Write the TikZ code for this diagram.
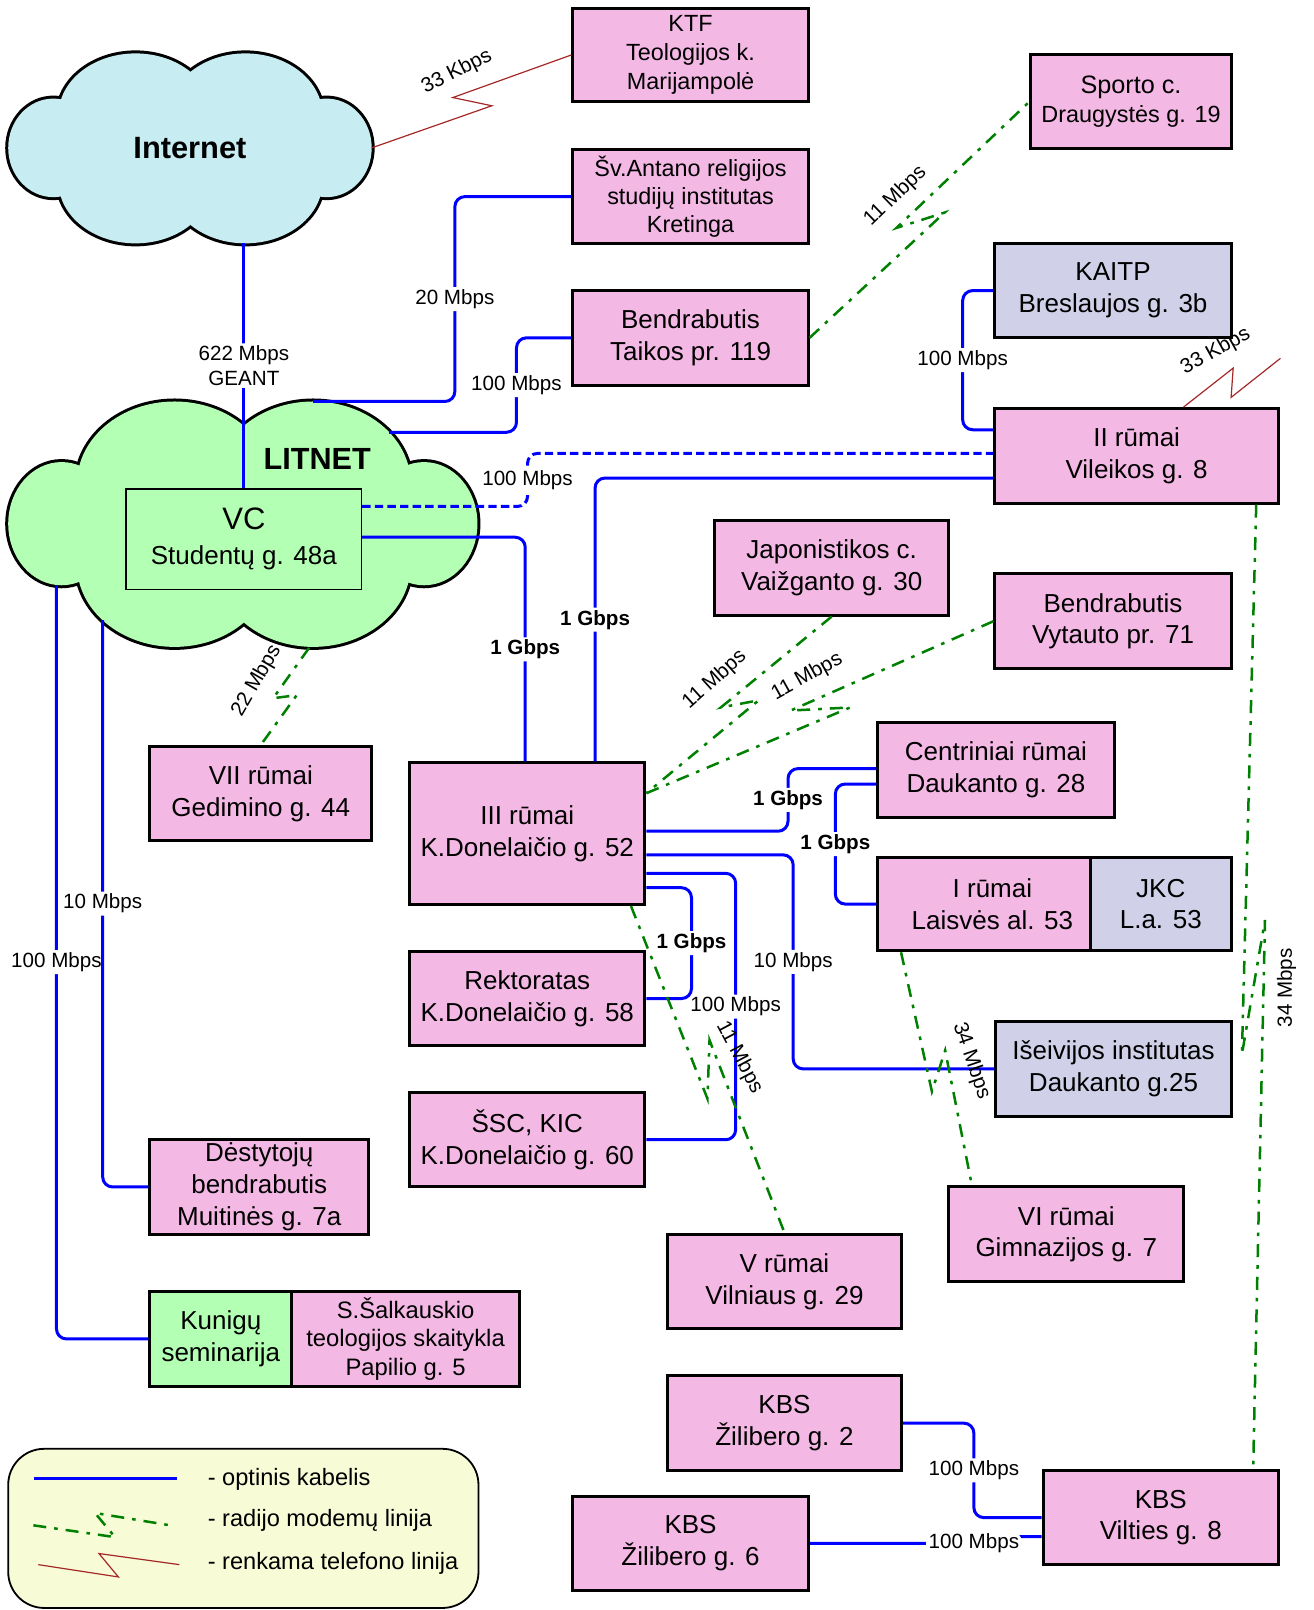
\documentclass[tikz,border=0pt]{standalone}
\usepackage{fontspec}
\setmainfont{Liberation Sans}
\usetikzlibrary{calc}
\definecolor{pinkc}{RGB}{244,184,228}
\definecolor{lavc}{RGB}{208,208,232}
\definecolor{grnc}{RGB}{179,255,179}
\definecolor{cyac}{RGB}{199,236,242}
\definecolor{legc}{RGB}{247,251,214}
\definecolor{fibc}{RGB}{0,0,255}
\definecolor{radc}{RGB}{0,128,0}
\definecolor{telc}{RGB}{165,40,40}
\newlength\upx
\setlength\upx{0.5133pt}
\newcommand\fsz[2]{\fontsize{#1}{#2}\selectfont}
\begin{document}
\begin{tikzpicture}[x=0.5133pt,y=-0.5133pt,
  bxr/.style n args={4}{at={({(#1+#3)/2},{(#2+#4)/2})}, minimum width={(#3-#1)*0.5133pt}, minimum height={(#4-#2)*0.5133pt}},
  box/.style={draw=black, line width=1.5pt, fill=pinkc, align=center, inner sep=0pt, font=\fsz{13}{15.9}},
  lav/.style={box, fill=lavc},
  grn/.style={box, fill=grnc},
  fib/.style={draw=fibc, line width=1.5pt, rounded corners=5pt},
  fibd/.style={fib, dash pattern=on 4.2pt off 2.1pt},
  rad/.style={draw=radc, line width=1.25pt, dash pattern=on 6.5pt off 4pt on 1.8pt off 4pt},
  tel/.style={draw=telc, line width=0.6pt},
  lbl/.style={fill=white, inner sep=1.2pt, font=\fsz{10.3}{12.3}},
  lblb/.style={lbl, font=\fsz{10.3}{12.3}\bfseries},
  rlbl/.style={inner sep=0pt, font=\fsz{10.3}{12.3}},
  cld/.style={draw=black, line width=3pt}]
\useasboundingbox (0,0) rectangle (1279,1568);
\fill[white] (0,0) rectangle (1279,1568);

% Internet cloud
\foreach \cx/\cy/\rx/\ry in {132/112/75/60,239/112/75/60,132/177/75/60,239/177/75/60,52/144/44/48,318/144/44/48}
  \draw[cld] (\cx,\cy) ellipse [x radius=\rx, y radius=\ry];
\foreach \cx/\cy/\rx/\ry in {132/112/75/60,239/112/75/60,132/177/75/60,239/177/75/60,52/144/44/48,318/144/44/48}
  \fill[cyac] (\cx,\cy) ellipse [x radius=\rx, y radius=\ry];
\node[font=\fsz{15.4}{18}\bfseries] (inet) at (185,144) {Internet};

% LITNET cloud
\foreach \cx/\cy/\rx/\ry in {170/471/95/80,305/471/95/80,170/550/95/80,305/550/95/80,60/510/52/60,413/510/52/60}
  \draw[cld] (\cx,\cy) ellipse [x radius=\rx, y radius=\ry];
\foreach \cx/\cy/\rx/\ry in {170/471/95/80,305/471/95/80,170/550/95/80,305/550/95/80,60/510/52/60,413/510/52/60}
  \fill[grnc] (\cx,\cy) ellipse [x radius=\rx, y radius=\ry];
\node[font=\fsz{15.3}{18}\bfseries] (litnet) at (309,447) {LITNET};

% boxes
\node[grn, line width=0.8pt, font=\fsz{13}{17.5}, bxr={123}{476}{352}{574}] (vc) {{\fsz{15.5}{17.5}VC}\\Studentų g. 48a};
\node[box, font=\fsz{11.7}{14.3}, bxr={558}{8}{787}{99}] (ktf) {KTF\\Teologijos k.\\Marijampolė};
\node[box, font=\fsz{11.7}{14.1}, bxr={558}{146}{787}{237}] (antano) {Šv.Antano religijos\\studijų institutas\\Kretinga};
\node[box, font=\fsz{12.6}{14.9}, bxr={1004}{53}{1199}{145}] (sporto) {Sporto c.\\{\fsz{11.7}{14.9}Draugystės g. 19}};
\node[box, bxr={558}{283}{787}{375}] (taikos) {Bendrabutis\\Taikos pr. 119};
\node[lav, bxr={969}{237}{1199}{329}] (kaitp) {KAITP\\Breslaujos g. 3b};
\node[box, bxr={969}{398}{1245}{490}] (ii) {II rūmai\\Vileikos g. 8};
\node[box, bxr={696}{507}{924}{599}] (jap) {Japonistikos c.\\Vaižganto g. 30};
\node[box, bxr={969}{559}{1199}{651}] (vyt) {Bendrabutis\\Vytauto pr. 71};
\node[box, bxr={146}{727}{362}{819}] (vii) {VII rūmai\\Gedimino g. 44};
\node[box, bxr={399}{743}{628}{881}] (iii) {III rūmai\\K.Donelaičio g. 52};
\node[box, bxr={855}{704}{1085}{796}] (cent) {Centriniai rūmai\\Daukanto g. 28};
\node[box, bxr={855}{835}{1062}{926}] (irumai) {\hspace*{16\upx}I rūmai\\\hspace*{16\upx}Laisvės al. 53};
\node[lav, bxr={1062}{835}{1199}{926}] (jkc) {JKC\\L.a. 53};
\node[box, bxr={399}{927}{628}{1018}] (rekt) {Rektoratas\\K.Donelaičio g. 58};
\node[lav, bxr={970}{995}{1199}{1087}] (iseiv) {Išeivijos institutas\\Daukanto g.25};
\node[box, bxr={399}{1064}{628}{1156}] (ssc) {ŠSC, KIC\\K.Donelaičio g. 60};
\node[box, bxr={146}{1110}{359}{1202}] (dest) {Dėstytojų\\bendrabutis\\Muitinės g. 7a};
\node[box, bxr={924}{1156}{1153}{1248}] (vi) {VI rūmai\\Gimnazijos g. 7};
\node[box, bxr={650}{1202}{878}{1294}] (vr) {V rūmai\\Vilniaus g. 29};
\node[grn, bxr={146}{1258}{284}{1350}] (kun) {Kunigų\\seminarija};
\node[box, font=\fsz{11.9}{14.1}, bxr={284}{1258}{506}{1350}] (salk) {S.Šalkauskio\\teologijos skaitykla\\Papilio g. 5};
\node[box, bxr={650}{1340}{878}{1432}] (kbs2) {KBS\\Žilibero g. 2};
\node[box, bxr={1016}{1432}{1245}{1524}] (vilt) {KBS\\Vilties g. 8};
\node[box, bxr={558}{1457}{787}{1549}] (kbs6) {KBS\\Žilibero g. 6};

% fibre connectors
\coordinate (inetS) at (237.5,237);
\coordinate (litA) at (305,391);
\coordinate (litB) at (379,421);
\coordinate (litC) at (55,570);
\coordinate (litD) at (100,604);
\draw[fib] (inetS) -- node[lbl, align=center]{622 Mbps\\GEANT} (vc.north);
\draw[fib] (litA) -- ++(138,0) |- node[lbl,pos=0.25]{20 Mbps} (antano.west);
\draw[fib] (litB) -- ++(124,0) |- node[lbl,pos=0.25]{100 Mbps} (taikos.west);
\draw[fibd] ([yshift=-18\upx]vc.north east) -- ++(161,0) |- node[lbl,pos=0.25]{100 Mbps} ([yshift=-45\upx]ii.north west);
\draw[fib] ([yshift=-48\upx]vc.north east) -| node[lblb,pos=0.75]{1 Gbps} ([xshift=114\upx]iii.north west);
\draw[fib] ([yshift=-69\upx]ii.north west) -| node[lblb,pos=0.75]{1 Gbps} ([xshift=182\upx]iii.north west);
\draw[fib] (kaitp.west) -- ++(-30,0) |- node[lbl,pos=0.25]{100 Mbps} ([yshift=-22\upx]ii.north west);
\draw[fib] ([yshift=-68\upx]iii.north east) -- ++(138,0) |- node[lblb,pos=0.25]{1 Gbps} ([yshift=-46\upx]cent.north west);
\draw[fib] ([yshift=-61\upx]cent.north west) -- ++(-40,0) |- node[lblb,pos=0.25]{1 Gbps} (irumai.west);
\draw[fib] ([yshift=-91\upx]iii.north east) -- ++(143,0) |- node[lbl,pos=0.25]{10 Mbps} (iseiv.west);
\draw[fib] ([yshift=-109\upx]iii.north east) -- ++(87,0) |- node[lbl,pos=0.25]{100 Mbps} (ssc.east);
\draw[fib] ([yshift=-123\upx]iii.north east) -- ++(44,0) |- node[lblb,pos=0.25]{1 Gbps} (rekt.east);
\draw[fib] (litC) |- node[lbl,pos=0.25]{100 Mbps} (kun.west);
\draw[fib] (litD) |- node[lbl,pos=0.25]{10 Mbps} (dest.west);
\draw[fib] (kbs2.east) -- ++(69,0) |- node[lbl,pos=0.25]{100 Mbps} (vilt.west);
\draw[fib] (kbs6.east) -- ++(160,0) node[lbl]{100 Mbps} |- ([yshift=-66\upx]vilt.north west);

% radio links
\coordinate (r1p) at (920,207); \coordinate (r1q) at (873,222);
\draw[rad] (taikos.east) -- (r1p) -- (r1q) -- (sporto.west);
\coordinate (r2p) at (702,689); \coordinate (r2q) at (739,682);
\draw[rad] (jap.south) -- (r2p) -- (r2q) -- ([yshift=-31\upx]iii.north east);
\coordinate (r3p) at (770,692); \coordinate (r3q) at (828,689);
\draw[rad] (vyt.west) -- (r3p) -- (r3q) -- ([yshift=-31\upx]iii.north east);
\coordinate (litE) at (301,631); \coordinate (r4p) at (266,680); \coordinate (r4q) at (289,677);
\draw[rad] (litE) -- (r4p) -- (r4q) -- (vii.north);
\coordinate (r5p) at (689,1070); \coordinate (r5q) at (691,1013);
\draw[rad] ([xshift=217\upx]iii.south west) -- (r5p) -- (r5q) -- (vr.north);
\coordinate (r6p) at (907.6,1063); \coordinate (r6q) at (920.5,1023);
\draw[rad] ([xshift=24\upx]irumai.south west) -- (r6p) -- (r6q) -- ([xshift=24\upx]vi.north west);
\coordinate (r7p) at (1209.5,1027); \coordinate (r7q) at (1232,896);
\draw[rad] ([xshift=-23\upx]ii.south east) -- (r7p) -- (r7q) -- ([xshift=-26\upx]vilt.north east);
\node[rlbl, rotate=44] (r1l) at (872,191) {11 Mbps};
\node[rlbl, rotate=42] (r2l) at (696,662) {11 Mbps};
\node[rlbl, rotate=29] (r3l) at (786,659) {11 Mbps};
\node[rlbl, rotate=60] (r4l) at (250,663) {22 Mbps};
\node[rlbl, rotate=-62] (r5l) at (720,1030) {11 Mbps};
\node[rlbl, rotate=-71] (r6l) at (946,1033) {34 Mbps};
\node[rlbl, rotate=90] (r7l) at (1253,962) {34 Mbps};

% telephone lines
\coordinate (inetE) at (362,144); \coordinate (t1p) at (479,103); \coordinate (t1q) at (441,95);
\draw[tel] (inetE) -- (t1p) -- (t1q) -- (ktf.west);
\coordinate (t2p) at (1201,358.5); \coordinate (t2q) at (1199,387); \coordinate (t2e) at (1247,349);
\draw[tel] ([xshift=185\upx]ii.north west) -- (t2p) -- (t2q) -- (t2e);
\node[rlbl, rotate=27] (t1l) at (445,70) {33 Kbps};
\node[rlbl, rotate=29] (t2l) at (1184,342) {33 Kbps};

% legend
\node[draw=black, line width=0.9pt, fill=legc, rounded corners=18pt, inner sep=0pt, bxr={8}{1411}{466}{1566}] (legend) {};
\coordinate (l1a) at (33,1440); \coordinate (l1b) at (172,1440);
\draw[fib] (l1a) -- (l1b);
\coordinate (l2a) at (32.5,1485.5); \coordinate (l2p) at (112,1497); \coordinate (l2q) at (92.5,1473.5); \coordinate (l2b) at (165.6,1485.5);
\draw[rad] (l2a) -- (l2p) -- (l2q) -- (l2b);
\coordinate (l3a) at (37.3,1523.8); \coordinate (l3p) at (115.3,1535.8); \coordinate (l3q) at (96.4,1513); \coordinate (l3b) at (174.7,1523.8);
\draw[tel] (l3a) -- (l3p) -- (l3q) -- (l3b);
\node[anchor=west, inner sep=0pt, font=\fsz{11.8}{14}] (lt1) at (202,1441) {- optinis kabelis};
\node[anchor=west, inner sep=0pt, font=\fsz{11.8}{14}] (lt2) at (202,1481) {- radijo modemų linija};
\node[anchor=west, inner sep=0pt, font=\fsz{11.8}{14}] (lt3) at (202,1523) {- renkama telefono linija};
\end{tikzpicture}
\end{document}
